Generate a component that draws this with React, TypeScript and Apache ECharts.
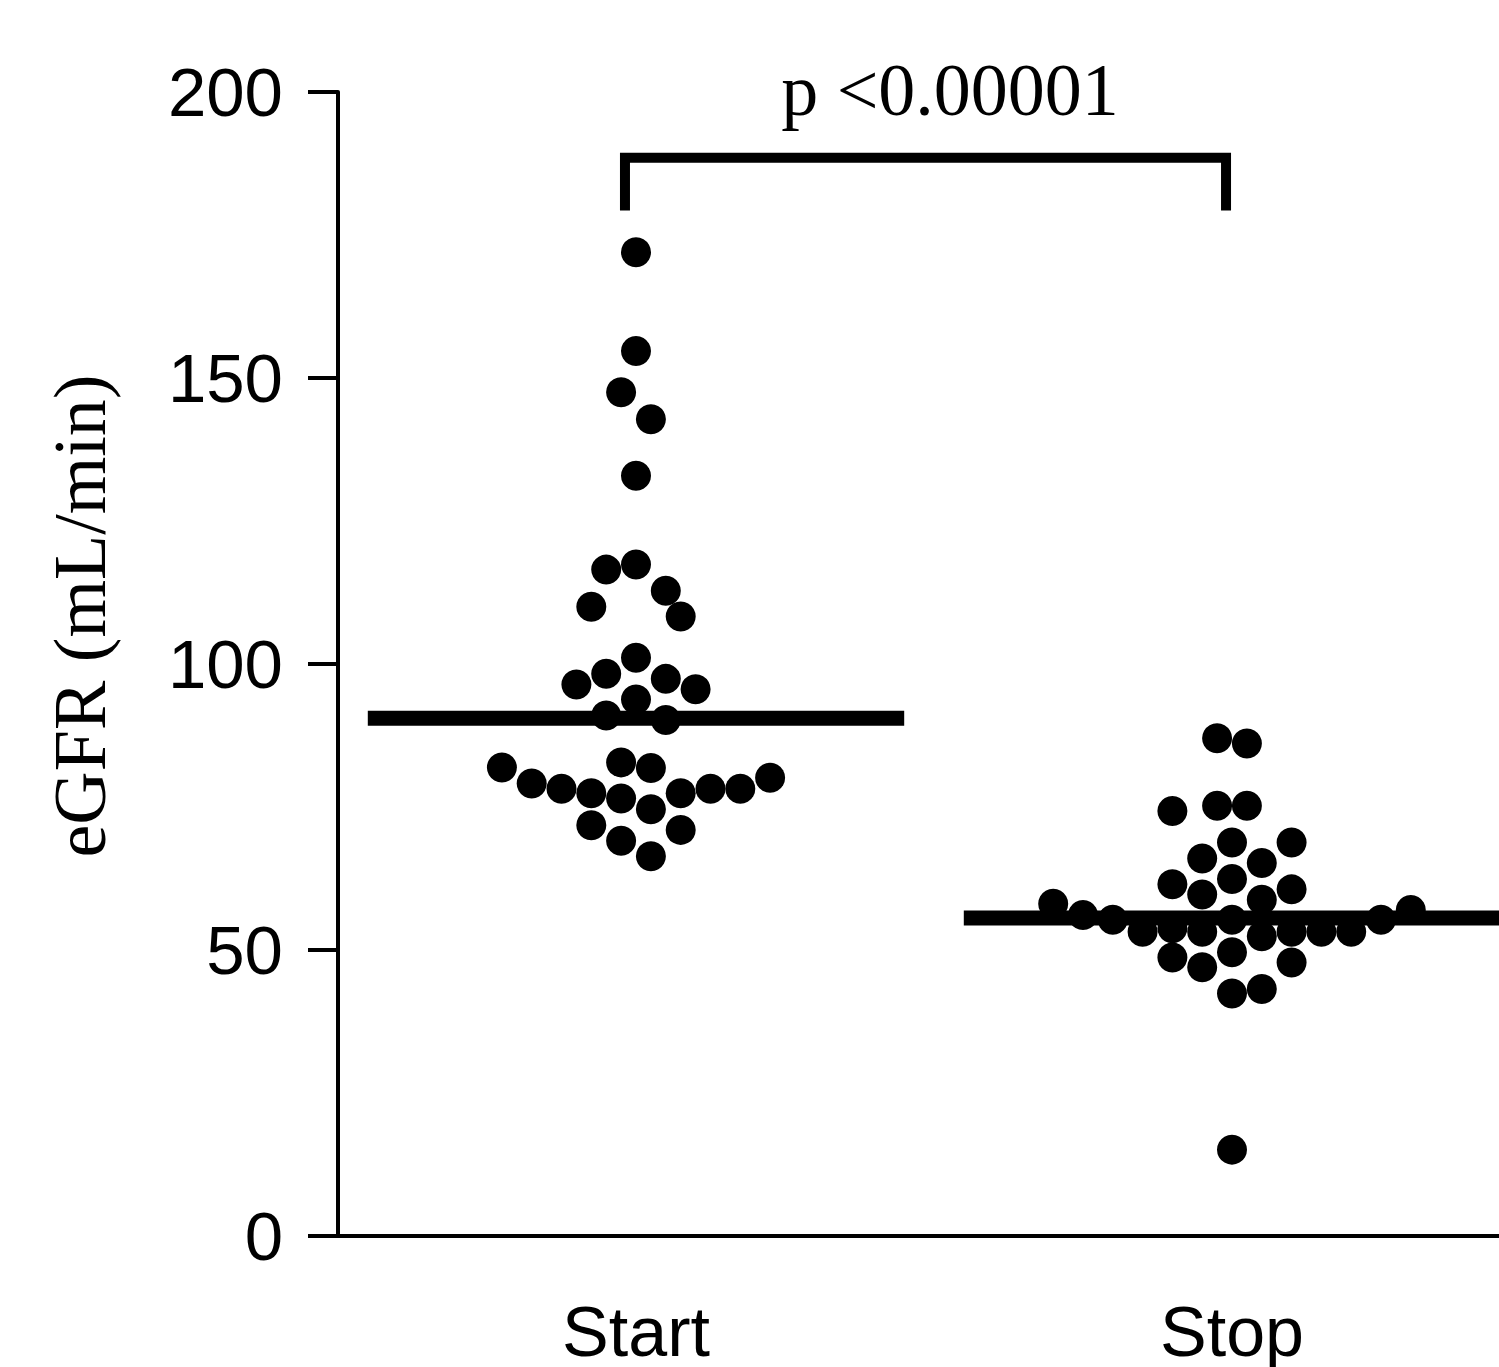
import React, { useEffect, useRef } from "react";
import * as echarts from "echarts";

// Group labels
const categories = ["Start", "Stop"];
// Y axis ticks
const yTicks = [0, 50, 100, 150, 200];
// eGFR values
const startValues = [172.0, 154.7, 147.5, 142.8, 132.9, 116.5, 117.4, 112.8, 110.0, 108.3, 101.1, 96.4, 98.3, 97.4, 95.6, 93.8, 91.0, 90.2, 81.9, 79.1, 78.2, 77.4, 82.8, 81.8, 76.5, 74.6, 77.4, 78.2, 78.2, 80.1, 71.8, 69.1, 71.0, 66.4];
// swarm slot of each dot (in half-dot widths, left negative)
const startSlots = [0, 0, -1, 1, 0, -2, 0, 2, -3, 3, 0, -4, -2, 2, 4, 0, -2, 2, -9, -7, -5, -3, -1, 1, -1, 1, 3, 5, 7, 9, -3, -1, 3, 1];
const stopValues = [87.0, 86.1, 74.3, 75.2, 75.2, 68.8, 68.8, 66.0, 65.2, 62.4, 61.5, 59.7, 60.6, 58.8, 58.1, 56.1, 55.3, 55.3, 55.3, 57.0, 53.2, 53.8, 53.2, 52.4, 53.2, 53.2, 53.2, 48.7, 47.0, 49.6, 47.8, 42.4, 43.2, 15.1];
const stopSlots = [-1, 1, -4, -1, 1, 0, 4, -2, 2, 0, -4, -2, 4, 2, -12, -10, -8, 0, 10, 12, -6, -4, -2, 2, 4, 6, 8, -4, -2, 0, 4, 0, 2, 0];
// group medians
const medians = [90.5, 55.6];
const pText = "p <0.00001";
const yName = "eGFR (mL/min)";

export default function App() {
  const ref = useRef<HTMLDivElement>(null);
  useEffect(() => {
    if (!ref.current) return;
    const chart = echarts.init(ref.current, null, { renderer: "svg" });
    const slotW = 0.025;
    const toPts = (vals: number[], slots: number[], c: number) =>
      vals.map((v, i) => [c + slots[i] * slotW, v]);
    const halfLen = 0.45;
    const medianSeries = medians.map((m, i) => ({
      type: "line",
      data: [[i + 1 - halfLen, m], [i + 1 + halfLen, m]],
      symbol: "none",
      lineStyle: { color: "#000", width: 15, cap: "butt" },
      z: 3,
      silent: true,
    }));
    const bracketTop = 188.5;
    const bracketBottom = 179.3;
    chart.setOption({
      animation: false,
      grid: { left: 338, right: 0, top: 92, bottom: 128.5, containLabel: false },
      xAxis: {
        type: "value",
        min: 0.5,
        max: 2.448,
        interval: 0.5,
        axisLine: { show: true, lineStyle: { color: "#000", width: 4 } },
        axisTick: { show: false },
        splitLine: { show: false },
        axisLabel: {
          showMaxLabel: false,
          margin: 61,
          color: "#000",
          fontSize: 70,
          fontFamily: "Liberation Sans, Arial, sans-serif",
          formatter: (v: number) => (Math.abs(v - 1) < 1e-6 ? categories[0] : Math.abs(v - 2) < 1e-6 ? categories[1] : ""),
        },
      },
      yAxis: {
        type: "value",
        min: yTicks[0],
        max: yTicks[yTicks.length - 1],
        interval: 50,
        axisLine: { show: true, lineStyle: { color: "#000", width: 4 } },
        axisTick: { show: true, length: 30, lineStyle: { color: "#000", width: 4 } },
        splitLine: { show: false },
        axisLabel: {
          margin: 55,
          color: "#000",
          fontSize: 69,
          fontFamily: "Liberation Sans, Arial, sans-serif",
        },
      },
      graphic: [
        {
          type: "text",
          x: 950,
          y: 90,
          style: {
            text: pText,
            fill: "#000",
            font: "74px 'Liberation Serif', 'Times New Roman', serif",
            align: "center",
            verticalAlign: "middle",
          },
        },
        {
          type: "text",
          x: 80,
          y: 616,
          rotation: Math.PI / 2,
          style: {
            text: yName,
            fill: "#000",
            font: "74px 'Liberation Serif', 'Times New Roman', serif",
            align: "center",
            verticalAlign: "middle",
          },
        },
      ],
      series: [
        {
          type: "scatter",
          data: toPts(startValues, startSlots, 1),
          symbol: "circle",
          symbolSize: 30,
          itemStyle: { color: "#000", opacity: 1 },
          z: 4,
        },
        {
          type: "scatter",
          data: toPts(stopValues, stopSlots, 2),
          symbol: "circle",
          symbolSize: 30,
          itemStyle: { color: "#000", opacity: 1 },
          z: 4,
        },
        ...medianSeries,
        {
          type: "line",
          data: [
            [0.9815, bracketBottom],
            [0.9815, bracketTop],
            [1.99, bracketTop],
            [1.99, bracketBottom],
          ],
          symbol: "none",
          lineStyle: { color: "#000", width: 10, cap: "butt", join: "miter" },
          silent: true,
        },
      ],
    });
    return () => chart.dispose();
  }, []);
  return (
    <div
      ref={ref}
      style={{ position: "fixed", left: 0, top: 0, width: 1499, height: 1367, background: "#fff" }}
    />
  );
}
